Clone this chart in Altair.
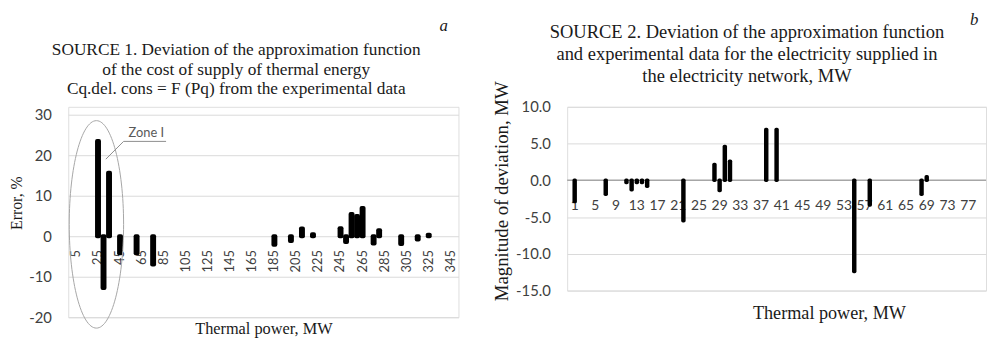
import altair as alt
import pandas as pd

SERIF = "Liberation Serif"
SANS = "Lato"
TXT = "#404040"
INK = "#1a1a1a"
GRID = "#d9d9d9"

# ---------------- panel a (SOURCE 1) ----------------
a_power = [25, 30, 35, 45, 60, 75, 185, 200, 210, 220, 245, 250, 255, 260, 265, 275, 280, 300, 315, 325]
a_error = [23.5, -12.8, 15.7, -4.2, -4.2, -7.0, -2.1, -1.2, 1.9, 0.5, 2.0, -1.4, 5.5, 5.0, 7.0, -1.8, 1.5, -1.9, -0.8, 0.4]
a_ticks = list(range(5, 346, 20))
a_yticks = [-20, -10, 0, 10, 20, 30]
a_title = ["SOURCE 1. Deviation of the approximation function",
           "of the cost of supply of thermal energy",
           "Cq.del. cons = F (Pq) from the experimental data"]

# ---------------- panel b (SOURCE 2) ----------------
b_point = [1, 7, 11, 12, 13, 14, 15, 22, 28, 29, 30, 31, 38, 40, 55, 58, 68, 69]
b_dev = [-2.9, -1.9, -0.3, -1.3, -0.3, -0.3, -0.8, -5.5, 2.15, -1.4, 4.6, 2.6, 6.9, 6.9, -12.4, -3.35, -1.9, 0.5]
b_ticks = list(range(1, 80, 4))
b_yticks = [-15, -10, -5, 0, 5, 10]
b_title = ["SOURCE 2. Deviation of the approximation function",
           "and experimental data for the electricity supplied in",
           "the electricity network, MW"]

# left plot area starts 8 px above its top gridline (30), so both panels share a top edge
W1, H1 = 395, 213
W2, H2 = 424, 186

one = pd.DataFrame({"k": [0]})

# ---------- left chart ----------
xa = alt.Scale(domain=[2.5, 347.5], nice=False, zero=False)
ya = alt.Scale(domain=[-20, 31.95], nice=False)
xa_axis = alt.Axis(title="Thermal power, MW", labels=False, ticks=False, domain=False, grid=False,
                   titleFont=SERIF, titleFontSize=16.5, titleFontWeight="normal", titleColor=INK,
                   titleX=W1 / 2, titleY=11, titleBaseline="middle")
ya_axis = alt.Axis(title="Error, %", values=a_yticks, grid=True, gridColor=GRID, gridWidth=1,
                   ticks=False, domain=False, labelFont=SANS, labelFontSize=15, labelColor=TXT,
                   labelPadding=17, titleFont=SERIF, titleFontSize=16, titleFontWeight="normal",
                   titleColor=INK, titleAngle=270, titleX=-52, titleY=97, titleAlign="center",
                   titleBaseline="middle")

df_a = pd.DataFrame({"power": a_power, "error": a_error})
df_at = pd.DataFrame({"power": a_ticks, "error": [0] * len(a_ticks)})

labels_a = alt.Chart(df_at).mark_text(angle=270, align="right", baseline="middle", dx=-14,
                                      font=SANS, fontSize=13, color=TXT).encode(
    x=alt.X("power:Q", scale=xa, axis=xa_axis),
    y=alt.Y("error:Q", scale=ya, axis=ya_axis),
    text="power:Q")

bars_a = alt.Chart(df_a).mark_bar(size=2, color="black", stroke="black", strokeWidth=4,
                                  strokeJoin="round").encode(
    x=alt.X("power:Q", scale=xa, axis=xa_axis),
    y=alt.Y("error:Q", scale=ya, axis=ya_axis))

ELLIPSE = "M-0.262,0A0.262,1,0,1,0,0.262,0A0.262,1,0,1,0,-0.262,0Z"
ellipse = alt.Chart(one).mark_point(shape=ELLIPSE, size=44100, filled=False, stroke="#a6a6a6",
                                    strokeWidth=1, opacity=1).encode(
    x=alt.value(28.5), y=alt.value(119))
zone_txt = alt.Chart(one).mark_text(text="Zone I", font=SANS, fontSize=13, color="#595959",
                                    align="center", baseline="middle").encode(
    x=alt.value(79), y=alt.value(27))
zone_under = alt.Chart(one).mark_rule(color="#8c8c8c", strokeWidth=1).encode(
    x=alt.value(56), x2=alt.value(99), y=alt.value(35))
zone_lead = alt.Chart(one).mark_rule(color="#8c8c8c", strokeWidth=1).encode(
    x=alt.value(56), y=alt.value(35), x2=alt.value(38), y2=alt.value(53))

title_a = alt.Chart(one).mark_text(font=SERIF, fontSize=17.5, lineHeight=19.5, align="center",
                                   baseline="top", color=INK).encode(
    x=alt.value(170), y=alt.value(-66), text=alt.value(a_title))
letter_a = alt.Chart(one).mark_text(text="a", font=SERIF, fontSize=17, fontStyle="italic",
                                    align="center", baseline="alphabetic", color=INK).encode(
    x=alt.value(380), y=alt.value(-77))

left = alt.layer(labels_a, bars_a, ellipse, zone_under, zone_lead, zone_txt,
                 title_a, letter_a).properties(width=W1, height=H1)

# ---------- right chart ----------
xb = alt.Scale(domain=[0.5, 79.5], nice=False, zero=False)
yb = alt.Scale(domain=[-15, 10], nice=False)
xb_axis = alt.Axis(title="Thermal power, MW", labels=False, ticks=False, domain=False, grid=False,
                   titleFont=SERIF, titleFontSize=18.4, titleFontWeight="normal", titleColor=INK,
                   titleX=265, titleY=22, titleBaseline="middle")
yb_axis = alt.Axis(title="Magnitude of deviation, MW", values=b_yticks, format=".1f", grid=True,
                   gridColor=GRID, gridWidth=1, ticks=False, domain=False, labelFont=SANS,
                   labelFontSize=15, labelColor=TXT, labelPadding=17, titleFont=SERIF,
                   titleFontSize=19, titleFontWeight="normal", titleColor=INK, titleAngle=270,
                   titleX=-66, titleY=85, titleAlign="center", titleBaseline="middle")

df_b = pd.DataFrame({"point": b_point, "dev": b_dev})
df_bt = pd.DataFrame({"point": b_ticks, "dev": [0] * len(b_ticks)})

zero_b = alt.Chart(pd.DataFrame({"dev": [0]})).mark_rule(color="#a6a6a6", strokeWidth=1.5).encode(
    y=alt.Y("dev:Q", scale=yb, axis=yb_axis))
labels_b = alt.Chart(df_bt).mark_text(align="center", baseline="top", dy=19, font=SANS,
                                      fontSize=14, color=TXT).encode(
    x=alt.X("point:Q", scale=xb, axis=xb_axis),
    y=alt.Y("dev:Q", scale=yb, axis=yb_axis),
    text="point:Q")
bars_b = alt.Chart(df_b).mark_bar(size=1, color="black", stroke="black", strokeWidth=3.5,
                                  strokeJoin="round").encode(
    x=alt.X("point:Q", scale=xb, axis=xb_axis),
    y=alt.Y("dev:Q", scale=yb, axis=yb_axis))
title_b = alt.Chart(one).mark_text(font=SERIF, fontSize=18.7, lineHeight=22.5, align="center",
                                   baseline="top", color=INK).encode(
    x=alt.value(182), y=alt.value(-85), text=alt.value(b_title))
letter_b = alt.Chart(one).mark_text(text="b", font=SERIF, fontSize=17, fontStyle="italic",
                                    align="center", baseline="alphabetic", color=INK).encode(
    x=alt.value(412), y=alt.value(-83))

right = alt.layer(zero_b, labels_b, bars_b, title_b, letter_b).properties(width=W2, height=H2)

chart = alt.hconcat(left, right, spacing=33).properties(padding=0).configure_view(
    stroke="transparent").configure(
    locale={"number": {"decimal": ".", "thousands": ",", "grouping": [3],
                       "currency": ["$", ""], "minus": "-"}})

chart.save("out.html", embed_options={"renderer": "svg", "actions": False})
